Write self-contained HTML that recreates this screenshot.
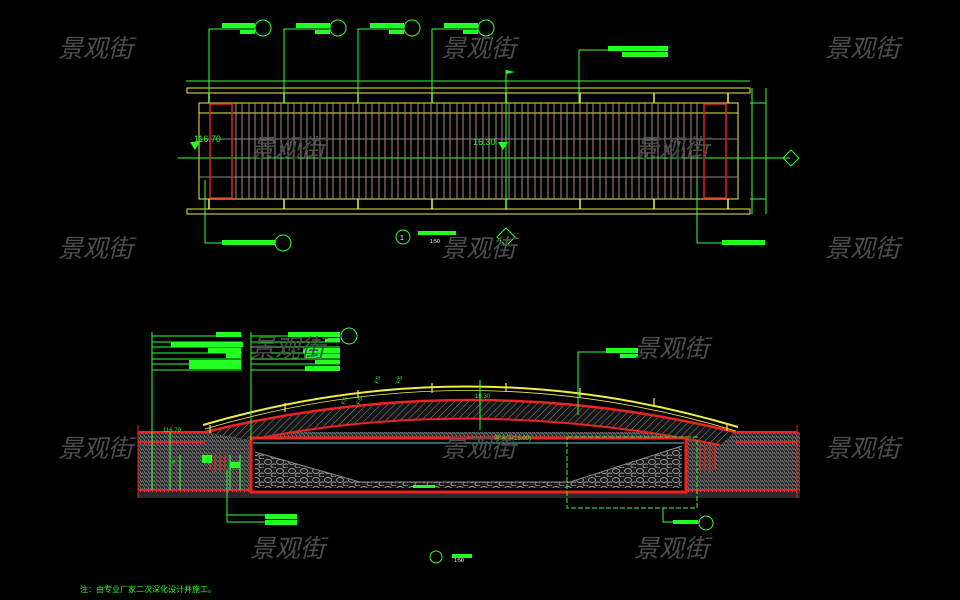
<!DOCTYPE html>
<html><head><meta charset="utf-8"><style>
html,body{margin:0;padding:0;background:#000;width:960px;height:600px;overflow:hidden}
svg{display:block}
.wm{font-family:"Liberation Sans","Noto Sans CJK SC",sans-serif;font-size:25px;font-style:italic;fill:#4d4d4d}
</style></head><body>
<svg width="960" height="600" viewBox="0 0 960 600" xmlns="http://www.w3.org/2000/svg">
<defs>
<pattern id="hatch" width="5" height="5" patternUnits="userSpaceOnUse" patternTransform="rotate(45)">
<rect width="5" height="5" fill="#151515"/><line x1="0" y1="0" x2="0" y2="5" stroke="#888" stroke-width="1"/></pattern>
<pattern id="soil" width="4" height="4" patternUnits="userSpaceOnUse">
<rect width="4" height="4" fill="#2a2a2a"/><path d="M0 0L2 2M2 0L4 3M0 3L1 4" stroke="#777" stroke-width="0.8"/></pattern>
<pattern id="rub" width="12" height="9" patternUnits="userSpaceOnUse">
<rect width="12" height="9" fill="#1a1a1a"/><ellipse cx="4" cy="3" rx="3.5" ry="2.5" fill="none" stroke="#999" stroke-width="0.9"/><ellipse cx="10" cy="7" rx="3" ry="2" fill="none" stroke="#999" stroke-width="0.9"/></pattern>
</defs>

<!-- ===== PLAN VIEW ===== -->
<g fill="none">
<line x1="186" y1="81" x2="750" y2="81" stroke="#3f3" stroke-width="1"/>
<rect x="187" y="88" width="563" height="5" stroke="#ee4" stroke-width="1"/>
<rect x="187" y="209" width="563" height="5" stroke="#ee4" stroke-width="1"/>
<rect x="199" y="103" width="539" height="96" stroke="#ee4" stroke-width="1"/>
<line x1="199" y1="113" x2="738" y2="113" stroke="#ee4"/>
<line x1="199" y1="139" x2="738" y2="139" stroke="#888"/>
<line x1="199" y1="177" x2="738" y2="177" stroke="#888"/>
<line x1="178" y1="158" x2="790" y2="158" stroke="#3f3"/>
<g stroke="#a88" stroke-width="1">
<path d="M236 103V199M242 103V199M249 103V199M255 103V199M262 103V199M268 103V199M275 103V199M281 103V199M288 103V199M294 103V199M301 103V199M307 103V199M314 103V199M320 103V199M327 103V199M333 103V199M340 103V199M346 103V199M353 103V199M359 103V199M366 103V199M372 103V199M379 103V199M385 103V199M392 103V199M398 103V199M405 103V199M411 103V199M418 103V199M424 103V199M431 103V199M437 103V199M444 103V199M450 103V199M457 103V199M463 103V199M470 103V199M476 103V199M483 103V199M489 103V199M496 103V199M502 103V199M509 103V199M515 103V199M522 103V199M528 103V199M535 103V199M541 103V199M548 103V199M554 103V199M561 103V199M567 103V199M574 103V199M580 103V199M587 103V199M593 103V199M600 103V199M606 103V199M613 103V199M619 103V199M626 103V199M632 103V199M639 103V199M645 103V199M652 103V199M658 103V199M665 103V199M671 103V199M678 103V199M684 103V199M691 103V199M697 103V199"/>
</g>
<rect x="210" y="104" width="22" height="94" stroke="#d22" stroke-width="1.5"/>
<rect x="704" y="104" width="22" height="94" stroke="#d22" stroke-width="1.5"/>
<g stroke="#ee4" stroke-width="1.5">
<path d="M209 93V103M284 93V103M358 93V103M432 93V103M506 93V103M580 93V103M654 93V103M728 93V103M209 199V209M284 199V209M358 199V209M432 199V209M506 199V209M580 199V209M654 199V209M728 199V209"/>
</g>
<path d="M752 88V214M766 88V214M750 103H766M750 199H766" stroke="#3f3"/>
<g stroke="#3f3">
<path d="M209 103V29H255M284 103V29H330M358 103V29H404M432 103V29H478M579 103V50H668M506 210V70"/>
<circle cx="263" cy="28" r="8"/><circle cx="338" cy="28" r="8"/><circle cx="412" cy="28" r="8"/><circle cx="486" cy="28" r="8"/>
<path d="M205 180V243H275M697 180V243H765"/>
<circle cx="283" cy="243" r="8"/>
<path d="M506 228L515 237L506 246L497 237Z"/>
<circle cx="403" cy="237" r="7"/>
<path d="M783 158L791 150L799 158L791 166Z"/>
</g>
</g>
<g fill="#2f2">
<rect x="222" y="23" width="33" height="5"/><rect x="240" y="30" width="15" height="4"/>
<rect x="296" y="23" width="34" height="5"/><rect x="315" y="30" width="15" height="4"/>
<rect x="370" y="23" width="34" height="5"/><rect x="389" y="30" width="15" height="4"/>
<rect x="444" y="23" width="34" height="5"/><rect x="463" y="30" width="15" height="4"/>
<rect x="608" y="46" width="60" height="5"/><rect x="622" y="52" width="46" height="5"/>
<rect x="222" y="240" width="53" height="5"/><rect x="722" y="240" width="43" height="5"/>
<path d="M506 70L515 72L506 74Z"/>
<path d="M190 142L200 142L195 150Z"/><path d="M498 142L508 142L503 150Z"/>
<rect x="418" y="231" width="38" height="4"/>
</g>
<text x="194" y="142" font-family="Liberation Sans" font-size="9" fill="#2f2">116.70</text>
<text x="473" y="145" font-family="Liberation Sans" font-size="9" fill="#2f2">16.30</text>
<text x="400" y="240" font-family="Liberation Sans" font-size="7" fill="#fff">1</text>
<text x="430" y="243" font-family="Liberation Sans" font-size="5" fill="#fff">1:50</text>

<!-- ===== SECTION ===== -->
<rect x="138" y="432" width="662" height="60" fill="url(#soil)"/>
<rect x="138" y="492" width="662" height="6" fill="#2a2a2a"/>
<path d="M138 432H205M735 432H797M138 442H205M735 442H797M138 490H797" stroke="#e22" stroke-width="2" fill="none"/>
<path d="M138 425V498M797 425V498" stroke="#e22" fill="none"/>
<path d="M205 432 Q470 368 735 432 L720 445 Q470 395 250 440 Z" fill="url(#hatch)"/>
<path d="M205 432 Q470 368 735 432" stroke="#e22" stroke-width="2.5" fill="none"/>
<path d="M250 440 Q470 395 720 445" stroke="#e22" stroke-width="2" fill="none"/>
<rect x="251" y="438" width="435" height="54" fill="#000"/>
<path d="M255 452 L360 482 L570 482 L682 446 L682 488 L255 488 Z" fill="url(#rub)"/>
<path d="M255 452 L360 482 L570 482 L682 446" stroke="#888" fill="none"/>
<rect x="251" y="438" width="435" height="54" stroke="#e22" stroke-width="3" fill="none"/>
<line x1="253" y1="443" x2="684" y2="443" stroke="#6cc" stroke-width="1"/>
<g stroke="#e22" stroke-width="1.2" fill="none">
<path d="M210 455V470M215 455V472M220 455V472M225 455V470M700 445V470M705 445V472M710 445V472M715 445V470"/>
</g>
<path d="M203 425 Q470 347 738 427" stroke="#ee4" stroke-width="2" fill="none"/>
<path d="M205 429 Q470 351 736 431" stroke="#ee4" stroke-width="0.8" fill="none"/>
<g stroke="#ee4" stroke-width="1.2">
<path d="M210 425V433M285 403V412M358 390V398M432 383V393M506 383V392M580 388V397M654 398V407M727 424V431"/>
</g>
<rect x="567" y="437" width="130" height="71" stroke="#3c3" stroke-width="1.2" stroke-dasharray="5,2" fill="none"/>
<g stroke="#3f3" fill="none">
<path d="M152 332V490M152 336H242M152 342H242M152 347H242M152 353H242M152 359H242M152 364H242M152 370H242"/>
<path d="M251 332V440M251 336H340M251 342H340M251 347H340M251 353H340M251 359H340M251 364H340M251 370H340"/>
<circle cx="349" cy="336" r="8"/>
<path d="M578 415V352H638"/>
<path d="M227 470V522H297M227 515H297"/>
<path d="M663 508V522H700"/>
<circle cx="706" cy="523" r="7"/>
<circle cx="436" cy="557" r="6"/>
<path d="M480 430V380"/>
<path d="M170 432V490M180 455V490M230 455V490M240 455V490"/>
</g>
<g fill="#2f2">
<rect x="216" y="332" width="25" height="5"/><rect x="171" y="342" width="72" height="5"/><rect x="208" y="348" width="33" height="5"/><rect x="226" y="353" width="15" height="5"/><rect x="189" y="360" width="52" height="9"/>
<rect x="288" y="332" width="52" height="5"/><rect x="325" y="338" width="15" height="4"/><rect x="303" y="348" width="37" height="5"/><rect x="304" y="354" width="36" height="4"/><rect x="315" y="360" width="25" height="4"/><rect x="305" y="366" width="35" height="5"/>
<rect x="606" y="348" width="32" height="5"/><rect x="620" y="354" width="18" height="4"/>
<rect x="265" y="514" width="32" height="5"/><rect x="265" y="520" width="32" height="5"/>
<rect x="673" y="520" width="25" height="4"/>
<rect x="413" y="485" width="22" height="3"/>
<rect x="202" y="455" width="10" height="8"/><rect x="230" y="462" width="10" height="6"/>
<rect x="452" y="554" width="20" height="4"/>
</g>
<g font-family="Liberation Sans" font-size="6" fill="#2f2">
<text x="163" y="432">116.70</text><text x="475" y="398">16.30</text><text x="494" y="440">常水位(16.00)</text>
<text x="172" y="464">#</text><text x="378" y="384" transform="rotate(-70 378 384)">FS</text><text x="400" y="384" transform="rotate(-70 400 384)">FS</text>
<text x="345" y="405" transform="rotate(-70 345 405)">FS</text><text x="360" y="405" transform="rotate(-70 360 405)">FS</text>
</g>
<text x="454" y="562" font-family="Liberation Sans" font-size="5" fill="#fff">1:50</text>
<text x="80" y="592" font-family="Liberation Sans,Noto Sans CJK SC,sans-serif" font-size="8" fill="#2f2">注：由专业厂家二次深化设计并施工。</text>

<g class="wm">
<text x="58" y="57">景观街</text><text x="441" y="57">景观街</text><text x="825" y="57">景观街</text>
<text x="250" y="157">景观街</text><text x="634" y="157">景观街</text>
<text x="58" y="257">景观街</text><text x="441" y="257">景观街</text><text x="825" y="257">景观街</text>
<text x="250" y="357">景观街</text><text x="634" y="357">景观街</text>
<text x="58" y="457">景观街</text><text x="441" y="457">景观街</text><text x="825" y="457">景观街</text>
<text x="250" y="557">景观街</text><text x="634" y="557">景观街</text>
</g>
</svg>
</body></html>
